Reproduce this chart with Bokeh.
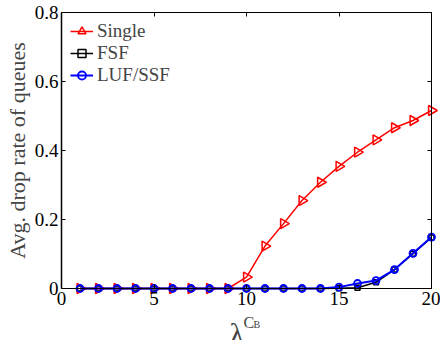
from bokeh.plotting import figure
from bokeh.models import LinearAxis, FixedTicker, Range1d, Label, Legend, LegendItem
from bokeh.embed import file_html
from bokeh.resources import INLINE
import math

# ---- data ----
lam = list(range(1, 21))
single = [0, 0, 0, 0, 0, 0, 0, 0, 0, 0.033, 0.123, 0.188, 0.255, 0.308, 0.354, 0.395, 0.431, 0.466, 0.487, 0.516]
fsf = [0, 0, 0, 0, 0, 0, 0, 0, 0, 0, 0, 0, 0, 0, 0.001, 0.002, 0.018, 0.055, 0.101, 0.148]
luf_ssf = [0, 0, 0, 0, 0, 0, 0, 0, 0, 0, 0, 0, 0, 0, 0.004, 0.0145, 0.023, 0.055, 0.102, 0.149]
series_names = ["Single", "FSF", "LUF/SSF"]
x_ticks = [0, 5, 10, 15, 20]
x_tick_labels = ["0", "5", "10", "15", "20"]
y_ticks = [0.0, 0.2, 0.4, 0.6, 0.8]
y_tick_labels = ["0", "0.2", "0.4", "0.6", "0.8"]
y_label = "Avg. drop rate of queues"
x_label_parts = ["λ", "C", "B"]

FONT = "Liberation Serif"
W, H = 440, 340

# axes box in canvas pixels (the frame covers the whole canvas, axes drawn at fixed locations)
X0, X1 = 0.0, 20.0
Y0, Y1 = 0.0, 0.8
BOX_L, BOX_R, BOX_T, BOX_B = 61.0, 431.0, 12.0, 288.0
xs = (X1 - X0) / (BOX_R - BOX_L)
ys = (Y1 - Y0) / (BOX_B - BOX_T)
x_rng = Range1d(X0 - BOX_L * xs, X1 + (W - BOX_R) * xs)
y_rng = Range1d(Y0 - (H - BOX_B) * ys, Y1 + BOX_T * ys)

p = figure(width=W, height=H, output_backend="svg", toolbar_location=None,
           x_range=x_rng, y_range=y_rng,
           min_border_left=0, min_border_right=0, min_border_top=0, min_border_bottom=0,
           background_fill_color="white", border_fill_color="white")
p.xgrid.visible = False
p.ygrid.visible = False
p.outline_line_color = None

def style_axis(ax, ticks, labels):
    ax.ticker = FixedTicker(ticks=ticks)
    ax.major_tick_in = 4
    ax.major_tick_out = 0
    ax.minor_tick_line_color = None
    ax.axis_line_color = "black"
    ax.major_tick_line_color = "black"
    ax.major_label_text_font = FONT
    ax.major_label_text_font_size = "19px"
    ax.major_label_text_color = "black"
    ax.major_label_overrides = dict(zip(ticks, labels))

xa = p.xaxis[0]
style_axis(xa, x_ticks, x_tick_labels)
xa.fixed_location = Y0
xa.bounds = (X0, X1)
xa.major_label_standoff = 3

ya = p.yaxis[0]
style_axis(ya, y_ticks, y_tick_labels)
ya.fixed_location = X0
ya.bounds = (Y0, Y1)
ya.major_label_standoff = 3
ya.axis_line_width = 1.5
ya.axis_label = y_label
ya.axis_label_text_font = FONT
ya.axis_label_text_font_size = "22px"
ya.axis_label_text_font_style = "normal"
ya.axis_label_standoff = 2

top = LinearAxis()
style_axis(top, x_ticks, ["" for _ in x_ticks])
top.fixed_location = Y1
top.bounds = (X0, X1)
top.major_label_standoff = 0
p.add_layout(top, "above")
right = LinearAxis()
style_axis(right, y_ticks, ["" for _ in y_ticks])
right.fixed_location = X1
right.bounds = (Y0, Y1)
right.major_label_standoff = 0
p.add_layout(right, "right")

# ---- series ----
r_line = p.line(lam, single, line_color="red", line_width=1.5)
r_mk = p.scatter(lam, single, marker="triangle", angle=-math.pi / 2, size=10,
                 line_color="red", fill_color=None, line_width=1.5)
k_line = p.line(lam, fsf, line_color="black", line_width=1.5)
k_mk = p.scatter(lam, fsf, marker="square", size=5,
                 line_color="black", fill_color=None, line_width=1.5)
b_line = p.line(lam, luf_ssf, line_color="blue", line_width=2)
b_mk = p.scatter(lam, luf_ssf, marker="circle", size=7,
                 line_color="blue", fill_color=None, line_width=1.8)

legend = Legend(items=[
    LegendItem(label=series_names[0], renderers=[r_line, r_mk]),
    LegendItem(label=series_names[1], renderers=[k_line, k_mk]),
    LegendItem(label=series_names[2], renderers=[b_line, b_mk]),
])
legend.border_line_color = None
legend.background_fill_alpha = 0
legend.margin = 0
legend.padding = 0
legend.spacing = 0
legend.glyph_width = 23
legend.glyph_height = 20
legend.label_height = 20
legend.label_standoff = 4
legend.label_text_font = FONT
legend.label_text_font_size = "19px"
LEG_TOP, LEG_LEFT = 17, 70
leg_h = 3 * 23
legend.location = (LEG_LEFT, H - LEG_TOP - leg_h)
p.add_layout(legend, "center")

# ---- x axis label: lambda^{C_B}, screen px from the canvas bottom-left ----
p.add_layout(Label(x=229, y=H - 333, x_units="screen", y_units="screen", text=x_label_parts[0],
                   text_font=FONT, text_font_size="30px", text_baseline="alphabetic"))
p.add_layout(Label(x=243, y=H - 322, x_units="screen", y_units="screen", text=x_label_parts[1],
                   text_font=FONT, text_font_size="16px", text_baseline="alphabetic"))
p.add_layout(Label(x=253, y=H - 324, x_units="screen", y_units="screen", text=x_label_parts[2],
                   text_font=FONT, text_font_size="10px", text_baseline="alphabetic"))

open("out.html", "w").write(file_html(p, INLINE))
